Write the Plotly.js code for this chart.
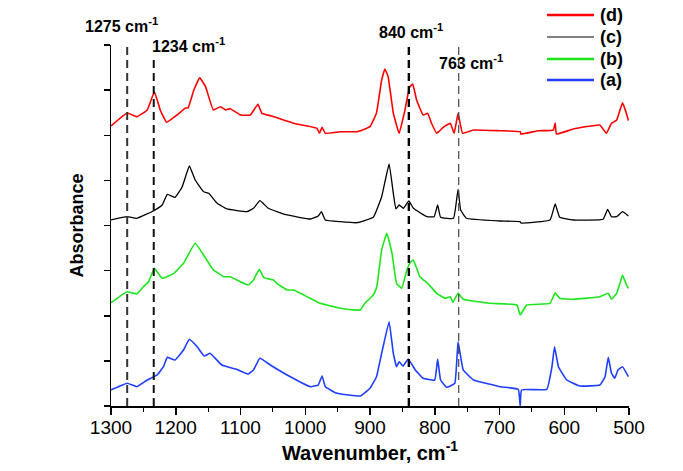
<!DOCTYPE html>
<html>
<head>
<meta charset="utf-8">
<script src="https://cdn.plot.ly/plotly-3.0.1.min.js"></script>
<style>html,body{margin:0;padding:0;background:#fff;}#chart{width:683px;height:471px;}</style>
</head>
<body>
<div id="chart"></div>
<script>
// (d) red
const wnD = [1300,1275,1260,1244,1233,1224,1214,1198,1185,1181,1172,1163,1154,1142,1131,1123,1116,1100,1085,1073,1067,1052,1018,982,978,974,969,946,920,900,890,882,877,872,864,855,846,839,834,828,818,811,805,797,787,776,770,764,757,740,700,668,667,640,617,614,612,586,545,535,527,519,510,504,501];
const absD = [6.205,6.493,6.411,6.560,6.965,6.560,6.287,6.449,6.604,6.604,7.003,7.275,7.076,6.560,6.633,6.560,6.589,6.449,6.449,6.686,6.486,6.427,6.265,6.154,6.043,6.176,6.043,6.079,6.079,6.190,6.493,7.224,7.468,7.298,6.493,6.043,6.560,7.063,7.136,6.781,6.449,6.486,6.265,6.043,6.176,6.265,6.043,6.486,6.043,6.116,6.100,6.079,6.027,6.100,6.116,6.271,6.027,6.139,6.227,6.043,6.265,6.338,6.721,6.486,6.323];
// (c) black
const wnC = [1300,1275,1260,1234,1221,1213,1201,1190,1179,1170,1157,1149,1136,1121,1090,1080,1070,1057,1028,992,980,975,969,946,920,895,882,870.5,864,860,855,848.5,840,833,812,801,795.5,791,771,764,760,751,700,668,667,622,614,607,586,540,533,527,519,510,501];
const absC = [4.122,4.195,4.160,4.328,4.454,4.691,4.625,4.860,5.319,5.008,4.749,4.714,4.492,4.366,4.306,4.381,4.550,4.381,4.233,4.144,4.211,4.306,4.122,4.084,4.062,4.182,4.638,5.363,4.714,4.366,4.454,4.381,4.543,4.381,4.195,4.195,4.454,4.182,4.160,4.802,4.343,4.160,4.100,4.084,4.055,4.122,4.476,4.182,4.122,4.137,4.359,4.195,4.195,4.306,4.211];
// (b) green
const wnB = [1300,1275,1260,1250,1242,1233,1221,1203,1188,1170,1157,1142,1134,1126,1116,1088,1080,1071,1064,1049,1044,1028,1018,977,967,936,915,908,895,889.5,882,874,866,859,851,843,838,833,823,811,797,784,776,772,764,756,715,673,668,658,622,614,607,586,545,532,527,519,514,510,505,501];
const absB = [2.289,2.533,2.482,2.644,2.755,3.052,2.830,2.941,3.162,3.606,3.346,3.014,2.941,2.865,2.865,2.681,2.792,3.029,2.843,2.792,2.719,2.571,2.571,2.276,2.238,2.143,2.127,2.276,2.460,2.644,3.457,3.827,3.384,2.719,2.608,3.014,3.176,3.235,2.865,2.719,2.498,2.387,2.422,2.298,2.498,2.365,2.276,2.238,2.017,2.238,2.276,2.511,2.387,2.365,2.422,2.498,2.365,2.498,2.719,2.903,2.719,2.608];
// (a) blue
const wnA = [1300,1286,1275,1260,1244,1229,1219,1213,1201,1188,1179,1167,1156,1147,1129,1106,1088,1080,1070,1054,1028,992,980,974,969,951,915,900,890,882,870.5,864,859,855,849,841,830,818,800,795.5,791,781.5,769,764,756,740,699,671,668,666,627,619,615,609,596,576,545,537,532,527,522,517,510,501];
const absA = [0.355,0.443,0.503,0.428,0.576,0.687,0.871,1.079,1.019,1.241,1.478,1.314,1.108,1.168,0.909,0.813,0.709,0.798,1.057,0.909,0.687,0.428,0.465,0.665,0.428,0.281,0.222,0.392,0.649,1.168,1.868,1.168,0.871,0.982,0.886,1.042,0.798,0.614,0.576,1.042,0.576,0.414,0.503,1.425,0.798,0.576,0.428,0.370,0.000,0.355,0.370,0.871,1.314,0.871,0.576,0.443,0.465,0.649,1.079,0.725,0.614,0.798,0.871,0.649];

const seriesNames = ["(a)","(b)","(c)","(d)"];
const seriesColors = ["#1f3fff","#1ee61e","#000000","#ff0000"];
const markerWn = [1275,1234,840,763];
const markerLabels = ["1275 cm<sup>-1</sup>","1234 cm<sup>-1</sup>","840 cm<sup>-1</sup>","763 cm<sup>-1</sup>"];

const FONT = "Liberation Sans, Arial, sans-serif";
const xs = [wnA, wnB, wnC, wnD];
const ys = [absA, absB, absC, absD];
const widths = [1.6, 1.6, 1.3, 1.6];
const traces = xs.map((x, i) => ({
  x: x, y: ys[i], type: "scatter", mode: "lines", name: seriesNames[i],
  showlegend: false,
  line: {color: seriesColors[i], width: widths[i], shape: "spline", smoothing: 0.3}
}));

const lineTops = [8, 7.73, 8, 8];
const lineStyles = [
  {color: "#333", width: 2},
  {color: "#111", width: 2},
  {color: "#000", width: 2.4},
  {color: "#444", width: 1.2}
];
const shapes = markerWn.map((w, i) => ({
  type: "line", xref: "x", yref: "y", x0: w, x1: w, y0: 0, y1: lineTops[i],
  line: {color: lineStyles[i].color, width: lineStyles[i].width, dash: "8px,5px"}
}));

const labelPos = [
  {x: -0.0534, y: 1.055},
  {x: 0.0758, y: 1.0},
  {x: 0.5135, y: 1.039},
  {x: 0.629, y: 0.953}
];
const annotations = markerLabels.map((t, i) => ({
  text: t, xref: "paper", yref: "paper", x: labelPos[i].x, y: labelPos[i].y,
  xanchor: "left", yanchor: "middle", showarrow: false,
  font: {family: FONT, size: 16, color: "#000", weight: "bold"}
}));

// legend (top to bottom: d, c, b, a)
const legendRowsY = [0.903, 0.9612, 1.0222, 1.0831];
const legendLineW = [2.4, 2.4, 1.2, 2.4];
seriesNames.forEach((n, i) => {
  shapes.push({
    type: "line", xref: "paper", yref: "paper", x0: 0.8417, x1: 0.9324,
    y0: legendRowsY[i], y1: legendRowsY[i],
    line: {color: seriesColors[i], width: legendLineW[i]}
  });
  annotations.push({
    text: n, xref: "paper", yref: "paper", x: 0.9402, y: legendRowsY[i],
    xanchor: "left", yanchor: "middle", showarrow: false,
    font: {family: FONT, size: 18, color: "#000", weight: "bold"}
  });
});

const layout = {
  width: 683, height: 471,
  margin: {l: 111, r: 54, t: 45, b: 65},
  paper_bgcolor: "#fff", plot_bgcolor: "#fff",
  font: {family: FONT, color: "#000"},
  showlegend: false,
  xaxis: {
    range: [1300, 500], showgrid: false, zeroline: false,
    showline: true, linecolor: "#000", linewidth: 1.5,
    ticks: "outside", ticklen: 7, tickwidth: 1.5, tickcolor: "#000",
    dtick: 100, tick0: 500, ticklabelstandoff: -3,
    tickfont: {family: FONT, size: 19, color: "#000"},
    minor: {dtick: 50, ticks: "outside", ticklen: 4, tickwidth: 1.2, tickcolor: "#000"},
    title: {text: "Wavenumber, cm<sup>-1</sup>", font: {family: FONT, size: 20, color: "#000", weight: "bold"}, standoff: 8}
  },
  yaxis: {
    range: [0, 8], showgrid: false, zeroline: false,
    showline: true, linecolor: "#000", linewidth: 1.5,
    ticks: "outside", ticklen: 6, tickwidth: 1.5, tickcolor: "#000",
    dtick: 1, tick0: 0, showticklabels: false,
    title: {text: "Absorbance", font: {family: FONT, size: 18, color: "#000", weight: "bold"}, standoff: 15}
  },
  shapes: shapes,
  annotations: annotations
};

Plotly.newPlot("chart", traces, layout, {displayModeBar: false, staticPlot: true});
</script>
</body>
</html>
